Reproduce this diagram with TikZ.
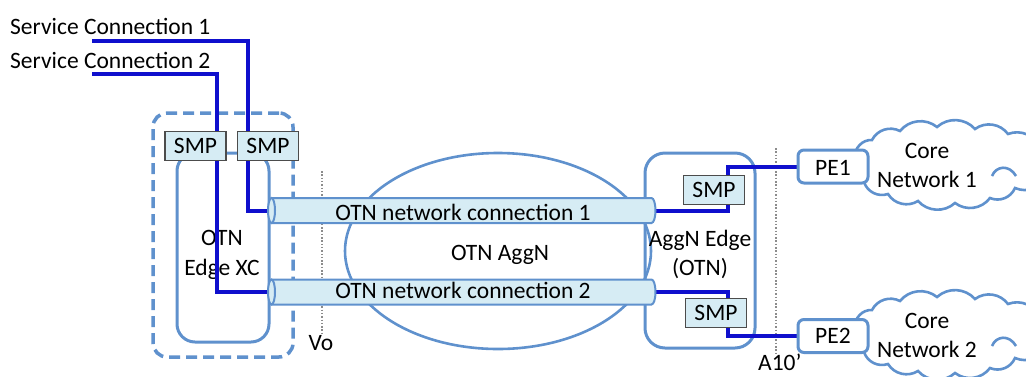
\documentclass[tikz,border=0pt]{standalone}
\usepackage{fontspec}
\setmainfont{Carlito}
\usetikzlibrary{shapes.geometric}
\definecolor{steel}{RGB}{95,145,205}
\definecolor{paleblue}{RGB}{214,236,244}
\definecolor{svcblue}{RGB}{15,15,205}
\pgfdeclarelayer{back}
\pgfdeclarelayer{wires}
\pgfsetlayers{back,wires,main}
% outline of a core network cloud (PE side on the left)
\newcommand\corecloudpath{(855,158) to[bend left=50] (872,140) to[bend left=45] (900,131)
  to[bend left=45] (937,127) to[bend left=45] (975,129) to[bend left=45] (1008,134)
  to[bend left=45] (1040,148) to[bend left=45] (1048,175) to[bend left=45] (1015,188)
  to[bend left=45] (990,198) to[bend left=45] (955,203) to[bend left=45] (918,201)
  to[bend left=45] (888,194) to[bend left=45] (864,182) to[bend left=50] cycle}

\begin{document}
\begin{tikzpicture}[x=1pt,y=-1pt,
  font=\fontsize{23.5}{28}\selectfont,
  outline/.style={draw=steel,line width=3pt},
  smp/.style={draw=black!70,line width=1.4pt,fill=paleblue,minimum width=61pt,minimum height=29pt,inner sep=0pt},
  lbl/.style={inner sep=0pt,anchor=base},
  svc/.style={draw=svcblue,line width=4pt},
  refline/.style={draw=black!45,line width=1.4pt,dash pattern=on 1.5pt off 1.8pt},
  tubeline/.style={draw=steel,line width=2pt,fill=paleblue},
  tubetext/.style={inner sep=0pt,minimum width=381.5pt,minimum height=25pt},
  pebox/.style={outline,fill=white,rounded corners=6pt,minimum width=70pt,minimum height=33pt,inner sep=0pt},
  cloudline/.style={draw=steel,line width=2.6pt}]
\useasboundingbox (0,0) rectangle (1026,376);

% ---------- background: enclosures, domain boundaries, labels ----------
\begin{pgfonlayer}{back}
  \node[draw=steel,line width=3.5pt,dash pattern=on 11pt off 6pt,rounded corners=14pt,
        minimum width=140pt,minimum height=244pt] (xcgroup) at (223,235) {};
  \node[outline,rounded corners=18pt,minimum width=92pt,minimum height=189pt] (xcbody) at (223,247.5) {};
  \node[lbl] (xct1) at (222,245) {OTN};
  \node[lbl] (xct2) at (222,275) {Edge XC};

  \node[ellipse,draw=steel,line width=2.6pt,minimum width=306pt,minimum height=196pt] (aggn) at (498,251) {};
  \node[lbl] (aggnt) at (500,260) {OTN AggN};

  \node[outline,rounded corners=20pt,minimum width=110pt,minimum height=195pt] (aggedge) at (700,250.5) {};
  \node[lbl] (aet1) at (700,246) {AggN Edge};
  \node[lbl] (aet2) at (700,275) {(OTN)};

  % reference points
  \coordinate (vo1) at (322,171);
  \coordinate (vo2) at (322,333);
  \draw[refline] (vo1) -- (vo2);
  \node[lbl] (vot) at (321,350) {Vo};
  \coordinate (a1) at (776,148);
  \coordinate (a2) at (776,353);
  \draw[refline] (a1) -- (a2);
  \node[lbl,anchor=base west] (a10t) at (758,370) {A10’};

  \node[lbl,anchor=base west] (sc1t) at (10,34) {Service Connection 1};
  \node[lbl,anchor=base west] (sc2t) at (10,68) {Service Connection 2};
\end{pgfonlayer}

% ---------- cross-connect points ----------
\node[smp] (smpA) at (195.5,146) {SMP};
\node[smp] (smpB) at (268,146) {SMP};
\node[smp] (smpC) at (714,190) {SMP};
\node[smp] (smpD) at (716,313) {SMP};

% ---------- OTN network connections (pipes) ----------
\foreach \n/\yc in {1/210.5, 2/292}{
  \draw[tubeline] (271.5,\yc-12.5) -- (651.5,\yc-12.5)
      arc[start angle=-90,end angle=90,x radius=4,y radius=12.5] -- (271.5,\yc+12.5) -- cycle;
  \draw[tubeline] (271.5,\yc) ellipse [x radius=3.5,y radius=12.5];
  \node[tubetext] (tube\n) at (460.75,\yc) {};
}
\node[lbl] (t1t) at (463,220) {OTN network connection 1};
\node[lbl] (t2t) at (463,298) {OTN network connection 2};

% ---------- core networks ----------
\begin{scope}
  \clip (0,0) rectangle (1026,376);
  \draw[cloudline,fill=white] \corecloudpath;
  \draw[cloudline] (992,176) .. controls (996,166) and (1009,164) .. (1016,176);
  \begin{scope}[shift={(0,170)}]
    \draw[cloudline,fill=white] \corecloudpath;
    \draw[cloudline] (992,176) .. controls (996,166) and (1009,164) .. (1016,176);
  \end{scope}
\end{scope}
\node[lbl] (c1a) at (927,158) {Core};
\node[lbl] (c1b) at (927,187) {Network 1};
\node[lbl] (c2a) at (927,328) {Core};
\node[lbl] (c2b) at (927,357) {Network 2};

\node[pebox] (pe1) at (833,166.5) {};
\node[lbl] (pe1t) at (833,175) {PE1};
\node[pebox] (pe2) at (833,336) {};
\node[lbl] (pe2t) at (833,343) {PE2};

% ---------- service connections ----------
\begin{pgfonlayer}{wires}
  \coordinate (sc1s) at (92,41);
  \coordinate (sc2s) at (92,74);
  \draw[svc] (sc1s) -| ([xshift=-20pt]smpB.center) |- (tube1.west);
  \draw[svc] (sc2s) -| ([xshift=21.5pt]smpA.center) |- (tube2.west);
  \draw[svc] (tube1.east) -| ([xshift=14pt]smpC.center) |- (pe1.west);
  \draw[svc] (tube2.east) -| ([xshift=12pt]smpD.center) |- (pe2.west);
\end{pgfonlayer}
\end{tikzpicture}
\end{document}
